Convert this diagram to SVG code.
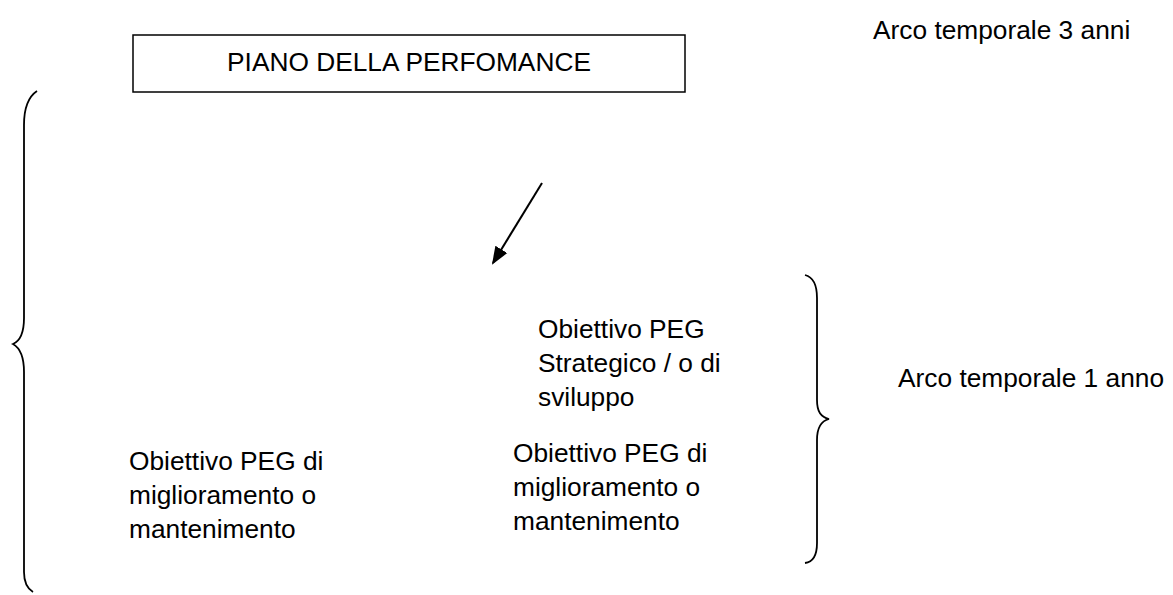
<svg xmlns="http://www.w3.org/2000/svg" width="1173" height="595" viewBox="0 0 1173 595">
<style>
text{font-family:"Liberation Sans",Arial,sans-serif;font-size:26.3px;fill:#000}
.br{fill:none;stroke:#000;stroke-width:1.8}
</style>
<defs>
<marker id="ah" markerWidth="18" markerHeight="16" refX="16" refY="7" orient="auto" markerUnits="userSpaceOnUse" viewBox="0 0 18 14">
<path d="M0,0 L18,7 L0,14 z" fill="#000"/>
</marker>
</defs>
<rect width="1173" height="595" fill="#fff"/>
<g id="arco3"><text x="873" y="39">Arco temporale 3 anni</text></g>
<g id="piano">
<rect x="133" y="35" width="552" height="57" fill="none" stroke="#000" stroke-width="1.5"/>
<text x="409" y="71" text-anchor="middle">PIANO DELLA PERFOMANCE</text>
</g>
<g id="brace-left"><path class="br" d="M37,91 C28,97 24,108 24,125 L24,318 C24,333 20,341 13,344 C20,348 24,356 24,372 L24,572 C24,583 28,589 33,592"/></g>
<g id="brace-right"><path class="br" d="M805,275 C813,277 817,285 817,298 L817,400 C817,412 821,417 829,419 C821,421 817,427 817,440 L817,543 C817,556 813,562 805,563"/></g>
<g id="connectors">
<line x1="542" y1="183" x2="493" y2="263" stroke="#000" stroke-width="2" marker-end="url(#ah)"/>
</g>
<g id="peg-strategico">
<text x="538" y="338">Obiettivo PEG</text>
<text x="538" y="372">Strategico / o di</text>
<text x="538" y="406">sviluppo</text>
</g>
<g id="peg-mid">
<text x="513" y="462">Obiettivo PEG di</text>
<text x="513" y="496">miglioramento o</text>
<text x="513" y="530">mantenimento</text>
</g>
<g id="peg-left">
<text x="129" y="470">Obiettivo PEG di</text>
<text x="129" y="504">miglioramento o</text>
<text x="129" y="538">mantenimento</text>
</g>
<g id="arco1"><text x="898" y="387">Arco temporale 1 anno</text></g>
</svg>
